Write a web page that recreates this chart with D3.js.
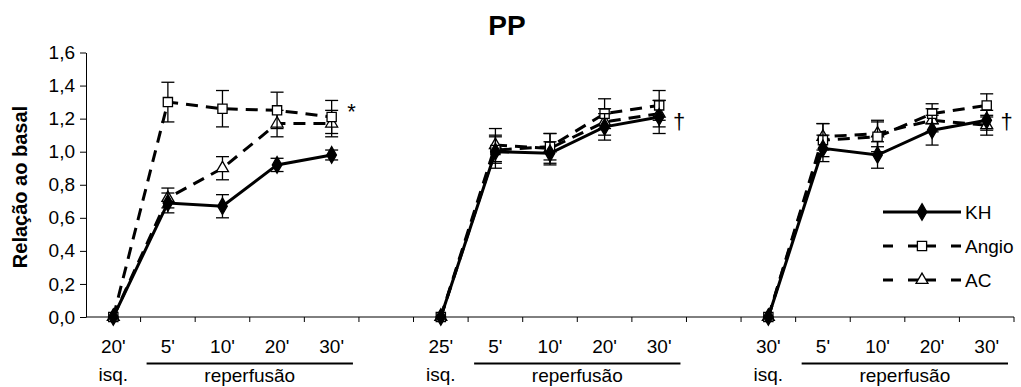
<!doctype html>
<html lang="pt">
<head>
<meta charset="UTF-8" />
<script src="https://cdn.jsdelivr.net/npm/d3@7"></script>
<style>
  body { margin: 0; background: #fff; }
  text { font-family: Arial, "Liberation Sans", sans-serif; fill: #000; }
  .axis path, .axis line { stroke: #000; stroke-width: 1; fill: none; }
  .axis text { font-size: 19px; }
  .err { stroke: #000; stroke-width: 1.3; }
</style>
<title>PP</title>
</head>
<body>
<script>
// categorias (vazias = espaço entre os blocos)
var categories = ["20'", "5'", "10'", "20'", "30'", "", "25'", "5'", "10'", "20'", "30'", "", "30'", "5'", "10'", "20'", "30'"];
var groupStarts = [0, 6, 12];
var yTicks = [0, 0.2, 0.4, 0.6, 0.8, 1.0, 1.2, 1.4, 1.6];

var kh       = [0, 0.69, 0.67, 0.92, 0.98, null, 0, 1.00, 0.99, 1.15, 1.21, null, 0, 1.02, 0.98, 1.13, 1.19];
var khErr    = [0, 0.06, 0.07, 0.04, 0.03, null, 0, 0.10, 0.07, 0.08, 0.10, null, 0, 0.08, 0.08, 0.09, 0.06];
var angio    = [0, 1.30, 1.26, 1.25, 1.21, null, 0, 1.01, 1.03, 1.23, 1.28, null, 0, 1.07, 1.09, 1.23, 1.28];
var angioErr = [0, 0.12, 0.11, 0.11, 0.10, null, 0, 0.08, 0.08, 0.09, 0.09, null, 0, 0.10, 0.09, 0.06, 0.07];
var ac       = [0, 0.72, 0.90, 1.17, 1.17, null, 0, 1.04, 1.02, 1.18, 1.23, null, 0, 1.09, 1.11, 1.19, 1.16];
var acErr    = [0, 0.06, 0.07, 0.08, 0.08, null, 0, 0.10, 0.09, 0.08, 0.08, null, 0, 0.08, 0.08, 0.07, 0.06];

// marcas de significância: categoria e altura da linha de base
var signifMarks = ["*", "†", "†"];
var signifAt = [[4, 1.2], [10, 1.14], [16, 1.14]];

var W = 1021, H = 387;
var svg = d3.select("body").append("svg").attr("width", W).attr("height", H);

var x = d3.scaleBand().domain(d3.range(categories.length)).range([86, 1014]).padding(0);
var y = d3.scaleLinear().domain([0, 1.6]).range([317, 52.5]);
var cx = function (i) { return x(i) + x.bandwidth() / 2; };

// eixo y
svg.append("g").attr("class", "axis").attr("transform", "translate(86,0)")
  .call(d3.axisLeft(y).tickValues(yTicks).tickSize(6).tickSizeOuter(0).tickPadding(5)
    .tickFormat(function (d) { return d3.format(".1f")(d).replace(".", ","); }));

// eixo x: linha e marcas nos limites das categorias
var xa = svg.append("g").attr("class", "axis");
xa.append("line").attr("x1", 86).attr("x2", 1014).attr("y1", y(0)).attr("y2", y(0));
xa.selectAll(".bt").data(d3.range(1, categories.length + 1)).enter().append("line")
  .attr("x1", function (i) { return x(0) + i * x.step(); })
  .attr("x2", function (i) { return x(0) + i * x.step(); })
  .attr("y1", y(0)).attr("y2", y(0) + 5);
xa.selectAll(".xl").data(categories).enter().append("text")
  .attr("text-anchor", "middle")
  .attr("x", function (d, i) { return cx(i); }).attr("y", 352.5)
  .text(function (d) { return d; });

// isq. / reperfusão
groupStarts.forEach(function (g) {
  svg.append("text").attr("text-anchor", "middle").attr("x", cx(g)).attr("y", 381)
    .style("font-size", "19px").text("isq.");
  svg.append("line").attr("x1", x(g + 1) + 6).attr("x2", x(g + 4) + x.bandwidth() - 6)
    .attr("y1", 363.5).attr("y2", 363.5).attr("stroke", "#000").attr("stroke-width", 2);
  svg.append("text").attr("text-anchor", "middle").attr("x", (x(g + 1) + x(g + 4) + x.bandwidth()) / 2)
    .attr("y", 382).style("font-size", "19px").text("reperfusão");
});

// títulos
svg.append("text").attr("x", 507).attr("y", 35).attr("text-anchor", "middle")
  .style("font-size", "28px").style("font-weight", "bold").text("PP");
svg.append("text").attr("transform", "translate(27,187) rotate(-90)").attr("text-anchor", "middle")
  .style("font-size", "20px").style("font-weight", "bold").text("Relação ao basal");

var series = [
  { name: "KH", values: kh, errs: khErr, dash: null, symbol: d3.symbolDiamond, size: 80, fill: "#000" },
  { name: "Angio", values: angio, errs: angioErr, dash: "12,8", symbol: d3.symbolSquare, size: 85, fill: "#fff" },
  { name: "AC", values: ac, errs: acErr, dash: "12,8", symbol: d3.symbolTriangle, size: 62, fill: "#fff" }
];

var line = d3.line()
  .defined(function (d) { return d != null; })
  .x(function (d, i) { return cx(i); })
  .y(function (d) { return y(d); });

series.slice().reverse().forEach(function (s) {
  var g = svg.append("g");
  g.append("path").attr("d", line(s.values)).attr("fill", "none").attr("stroke", "#000")
    .attr("stroke-width", 3).attr("stroke-dasharray", s.dash);

  var pts = s.values.map(function (v, i) { return { v: v, e: s.errs[i], i: i }; })
    .filter(function (p) { return p.v != null; });

  var eb = g.selectAll(".eb").data(pts.filter(function (p) { return p.e > 0; })).enter().append("g").attr("class", "err");
  eb.append("line").attr("x1", function (p) { return cx(p.i); }).attr("x2", function (p) { return cx(p.i); })
    .attr("y1", function (p) { return y(p.v - p.e); }).attr("y2", function (p) { return y(p.v + p.e); });
  [-1, 1].forEach(function (k) {
    eb.append("line").attr("x1", function (p) { return cx(p.i) - 6.5; }).attr("x2", function (p) { return cx(p.i) + 6.5; })
      .attr("y1", function (p) { return y(p.v + k * p.e); }).attr("y2", function (p) { return y(p.v + k * p.e); });
  });

  g.selectAll(".m").data(pts).enter().append("path")
    .attr("transform", function (p) { return "translate(" + cx(p.i) + "," + y(p.v) + ")"; })
    .attr("d", d3.symbol().type(s.symbol).size(s.size))
    .attr("fill", s.fill).attr("stroke", "#000").attr("stroke-width", 1.3);
});

// marcas de significância
svg.selectAll(".sig").data(signifMarks).enter().append("text")
  .attr("text-anchor", "middle")
  .attr("x", function (d, i) { return cx(signifAt[i][0]) + 20; })
  .attr("y", function (d, i) { return y(signifAt[i][1]); })
  .style("font-size", "22px").text(function (d) { return d; });

// legenda
var leg = svg.append("g");
series.forEach(function (s, k) {
  var ly = 212 + k * 34, mx = 922;
  if (s.dash) {
    leg.append("path").attr("d", "M883," + ly + "H" + (mx - 4)).attr("stroke", "#000").attr("stroke-width", 3)
      .attr("stroke-dasharray", "10,15");
    leg.append("path").attr("d", "M961," + ly + "H" + (mx + 4)).attr("stroke", "#000").attr("stroke-width", 3)
      .attr("stroke-dasharray", "10,15");
  } else {
    leg.append("path").attr("d", "M883," + ly + "H961").attr("stroke", "#000").attr("stroke-width", 3);
  }
  leg.append("path").attr("transform", "translate(" + mx + "," + ly + ")")
    .attr("d", d3.symbol().type(s.symbol).size(s.size))
    .attr("fill", s.fill).attr("stroke", "#000").attr("stroke-width", 1.3);
  leg.append("text").attr("x", 965).attr("y", ly + 7).style("font-size", "19px").text(s.name);
});
</script>
</body>
</html>
